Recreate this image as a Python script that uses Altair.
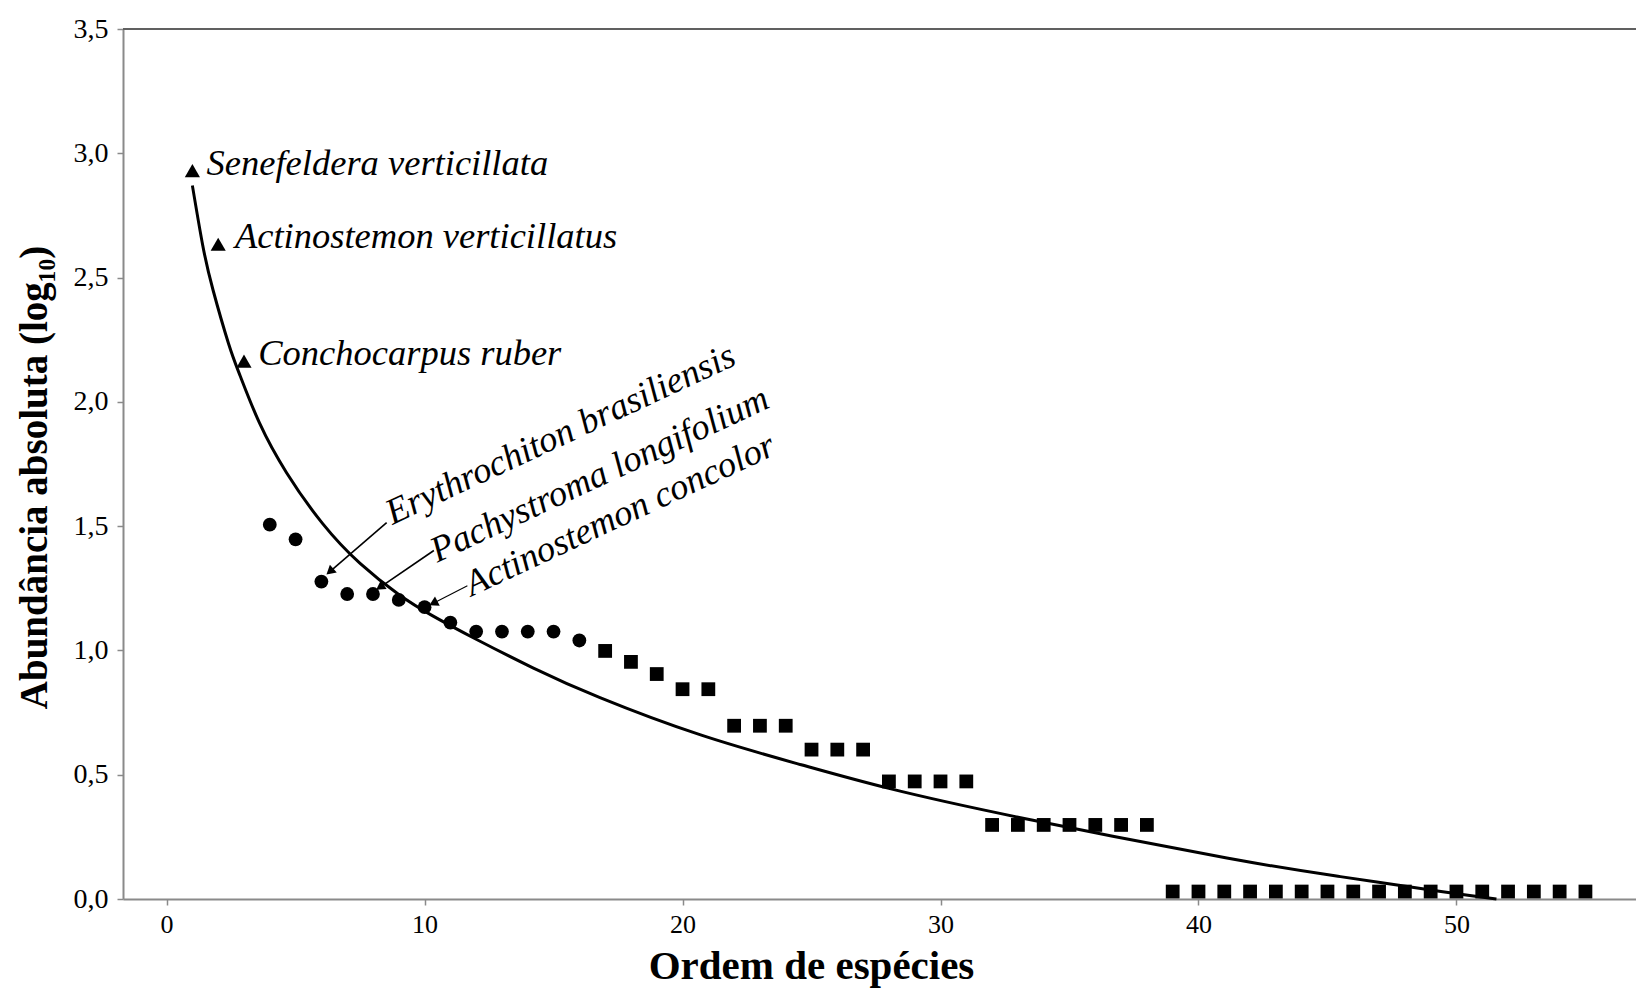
import altair as alt
import pandas as pd

# ---- data ----
rank_tri = [1, 2, 3]
abund_tri = [2.93, 2.634, 2.164]

rank_circ = [4, 5, 6, 7, 8, 9, 10, 11, 12, 13, 14, 15, 16]
abund_circ = [1.506, 1.447, 1.277, 1.227, 1.227, 1.203, 1.174, 1.112, 1.076, 1.076, 1.076, 1.076, 1.040]

rank_sq = [17, 18, 19, 20, 21, 22, 23, 24, 25, 26, 27, 28, 29, 30, 31,
           32, 33, 34, 35, 36, 37, 38,
           39, 40, 41, 42, 43, 44, 45, 46, 47, 48, 49, 50, 51, 52, 53, 54, 55]
abund_sq = [0.998, 0.954, 0.905, 0.844, 0.844, 0.697, 0.697, 0.697, 0.601, 0.601, 0.601,
            0.473, 0.473, 0.473, 0.473,
            0.298, 0.298, 0.298, 0.298, 0.298, 0.298, 0.298,
            0.03, 0.03, 0.03, 0.03, 0.03, 0.03, 0.03, 0.03, 0.03, 0.03, 0.03, 0.03, 0.03,
            0.03, 0.03, 0.03, 0.03]

# fitted curve, points
curve_x = [1.0, 1.4, 1.8, 2.4, 2.85, 3.6, 4.65, 6.05, 7.5, 9.0, 10.3, 12.0, 14.2,
           16.8, 20.7, 24.6, 28.0, 33.2, 41.1, 45.5, 49.4, 51.55]
curve_y = [2.87, 2.63, 2.45, 2.235, 2.105, 1.915, 1.715, 1.51, 1.35, 1.225, 1.14, 1.045, 0.93,
           0.81, 0.66, 0.54, 0.445, 0.325, 0.165, 0.09, 0.03, 0.0]

# annotations
up_labels = ["Senefeldera verticillata", "Actinostemon verticillatus", "Conchocarpus ruber"]
up_x = [1.55, 2.65, 3.55]
up_y = [2.912, 2.618, 2.148]

rot_labels = ["Erythrochiton brasiliensis", "Pachystroma longifolium", "Actinostemon concolor"]
rot_x = [8.76, 10.49, 11.83]
rot_y = [1.505, 1.353, 1.217]
arrow_x0 = [8.53, 10.36, 11.66]
arrow_y0 = [1.514, 1.402, 1.26]
arrow_x1 = [6.33, 8.27, 10.34]
arrow_y1 = [1.317, 1.254, 1.19]
arrow_w = [1.6, 1.6, 1.1]
arrow_angle = [229, 236, 243]

x_ticks = [0, 10, 20, 30, 40, 50]
y_ticks = [0, 0.5, 1.0, 1.5, 2.0, 2.5, 3.0, 3.5]

FONT = "Liberation Serif"

tri_df = pd.DataFrame({"x": rank_tri, "y": abund_tri})
circ_df = pd.DataFrame({"x": rank_circ, "y": abund_circ})
sq_df = pd.DataFrame({"x": rank_sq, "y": abund_sq})
curve_df = pd.DataFrame({"x": curve_x, "y": curve_y})
up_df = pd.DataFrame({"x": up_x, "y": up_y, "label": up_labels})
rot_df = pd.DataFrame({"x": rot_x, "y": rot_y, "label": rot_labels})
arr_df = pd.DataFrame({"x": arrow_x0, "y": arrow_y0, "x2": arrow_x1, "y2": arrow_y1,
                       "w": arrow_w, "ang": arrow_angle})

xscale = alt.Scale(domain=[-1.69, 56.96], nice=False, zero=False)
yscale = alt.Scale(domain=[0, 3.5], nice=False)

xaxis = alt.Axis(
    values=x_ticks, grid=False, domainColor="#8a8a8a", domainWidth=2,
    tickColor="#8a8a8a", tickSize=6, tickWidth=1.5,
    labelFont=FONT, labelFontSize=26, labelColor="black", labelPadding=6,
    labelFlush=False,
    title="Ordem de espécies", titleFont=FONT, titleFontSize=41, titleFontWeight="bold",
    titleColor="black", titleX=688, titleY=79, titleAlign="center",
    titleBaseline="alphabetic",
)
yaxis = alt.Axis(
    values=y_ticks, grid=False, domainColor="#8a8a8a", domainWidth=2,
    tickColor="#8a8a8a", tickSize=6, tickWidth=1.5,
    labelFont=FONT, labelFontSize=28, labelColor="black", labelPadding=9,
    labelFlush=False,
    labelExpr="replace(format(datum.value, '.1f'), '.', ',')",
    title="Abundância absoluta (log₁₀)", titleFont=FONT, titleFontSize=39,
    titleFontWeight="bold", titleColor="black", titleAngle=270,
    titleX=-89, titleY=448, titleAlign="center", titleBaseline="middle",
)


def X(f="x"):
    return alt.X(f, type="quantitative", scale=xscale, axis=xaxis)


def Y(f="y"):
    return alt.Y(f, type="quantitative", scale=yscale, axis=yaxis)


top_line = alt.Chart(pd.DataFrame({"v": [3.5]})).mark_rule(
    color="#606060", strokeWidth=2
).encode(y=Y("v"))

curve = alt.Chart(curve_df).mark_line(
    color="black", strokeWidth=3, interpolate="natural"
).encode(x=X(), y=Y())

tri = alt.Chart(tri_df).mark_point(
    shape="triangle-up", filled=True, color="black", opacity=1, size=230
).encode(x=X(), y=Y())

circ = alt.Chart(circ_df).mark_point(
    shape="circle", filled=True, color="black", opacity=1, size=190
).encode(x=X(), y=Y())

sq = alt.Chart(sq_df).mark_point(
    shape="square", filled=True, color="black", opacity=1, size=190
).encode(x=X(), y=Y())

up_text = alt.Chart(up_df).mark_text(
    font=FONT, fontStyle="italic", fontSize=36.5, align="left",
    baseline="alphabetic", color="black"
).encode(x=X(), y=Y(), text="label:N")

rot_text = alt.Chart(rot_df).mark_text(
    font=FONT, fontStyle="italic", fontSize=36.5, align="left",
    baseline="alphabetic", color="black", angle=335
).encode(x=X(), y=Y(), text="label:N")

arrows = alt.Chart(arr_df).mark_rule(color="black").encode(
    x=X(), y=Y(), x2=alt.X2("x2"), y2=alt.Y2("y2"),
    strokeWidth=alt.StrokeWidth("w:Q", scale=None),
)

heads = alt.Chart(arr_df).mark_point(
    shape="triangle-up", filled=True, color="black", opacity=1, size=110
).encode(x=X("x2"), y=Y("y2"), angle=alt.Angle("ang:Q", scale=None))

chart = alt.layer(
    top_line, curve, tri, circ, sq, up_text, rot_text, arrows, heads
).properties(
    width=1513, height=870,
    padding={"left": 123, "top": 29, "right": 0, "bottom": 89},
    autosize=alt.AutoSizeParams(type="none"),
    background="white",
).configure_view(stroke=None)

chart.save("out.html", embed_options={"renderer": "svg", "actions": False})
